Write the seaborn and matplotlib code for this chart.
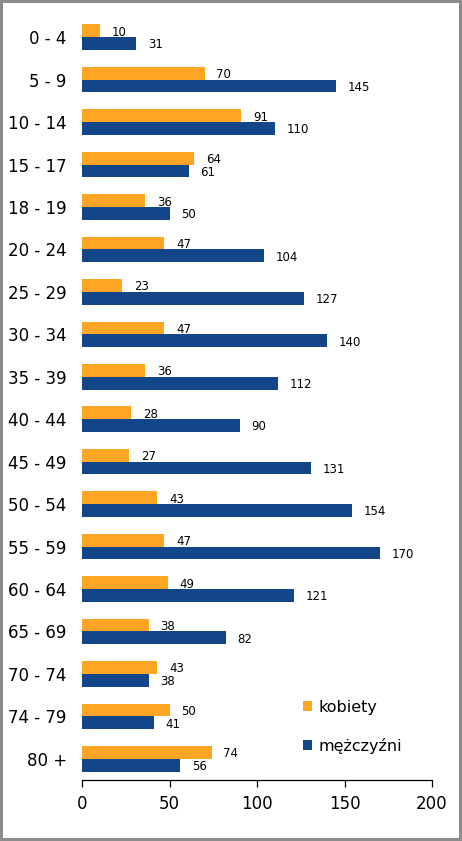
import pandas as pd
import matplotlib.pyplot as plt
import seaborn as sns
from matplotlib.patches import Patch

# --- data ---
age_groups = ["0 - 4", "5 - 9", "10 - 14", "15 - 17", "18 - 19", "20 - 24",
              "25 - 29", "30 - 34", "35 - 39", "40 - 44", "45 - 49", "50 - 54",
              "55 - 59", "60 - 64", "65 - 69", "70 - 74", "74 - 79", "80 +"]
kobiety = [10, 70, 91, 64, 36, 47, 23, 47, 36, 28, 27, 43, 47, 49, 38, 43, 50, 74]
mezczyzni = [31, 145, 110, 61, 50, 104, 127, 140, 112, 90, 131, 154, 170, 121, 82, 38, 41, 56]
series = ["kobiety", "mężczyźni"]
colors = ["#FFA526", "#134589"]

df = pd.DataFrame({
    "grupa": age_groups * 2,
    "liczba": kobiety + mezczyzni,
    "plec": [series[0]] * len(age_groups) + [series[1]] * len(age_groups),
})

sns.set_style("white")
plt.rcParams['font.family'] = ['DejaVu Sans']
plt.rcParams['text.color'] = 'black'
plt.rcParams['xtick.color'] = 'black'
plt.rcParams['ytick.color'] = 'black'

fig = plt.figure(figsize=(4.62, 8.41), dpi=100, edgecolor="#8c8c8c", linewidth=3)
ax = fig.add_axes([82 / 462, 1 - 780 / 841, 350 / 462, 764 / 841])

sns.barplot(data=df, x="liczba", y="grupa", hue="plec", hue_order=series,
            palette=colors, orient="h", width=0.6, saturation=1, ax=ax,
            legend=False, edgecolor="none")

# value labels next to each bar
for container in ax.containers:
    for bar, val in zip(container, container.datavalues):
        y = bar.get_y() + bar.get_height() / 2
        ax.annotate(f"{int(val)}", (bar.get_width(), y), xytext=(8.5, -1),
                    textcoords="offset points", ha="left", va="center",
                    fontsize=8.5, color="black")

ax.set_xlim(0, 200)
ax.set_ylim(17.5, -0.5)
ax.set_xticks([0, 50, 100, 150, 200])
ax.set_xlabel("")
ax.set_ylabel("")
for s in ["top", "right", "left"]:
    ax.spines[s].set_visible(False)
ax.spines["bottom"].set_color("black")
ax.spines["bottom"].set_linewidth(0.9)
ax.tick_params(axis="x", direction="out", length=5, width=0.9, color="black",
               labelcolor="black", labelsize=12, pad=6, bottom=True)
ax.tick_params(axis="y", length=0, labelsize=12, labelcolor="black", pad=11)

handles = [Patch(facecolor=c, edgecolor="none") for c in colors]
ax.legend(handles, series, loc="upper left", bbox_to_anchor=(0.655, 0.168),
          bbox_transform=fig.transFigure, frameon=False, fontsize=11.5,
          handlelength=0.6, handleheight=0.6, handletextpad=0.4,
          labelspacing=1.45, borderpad=0, borderaxespad=0)

fig.savefig("out.png", dpi=100)
